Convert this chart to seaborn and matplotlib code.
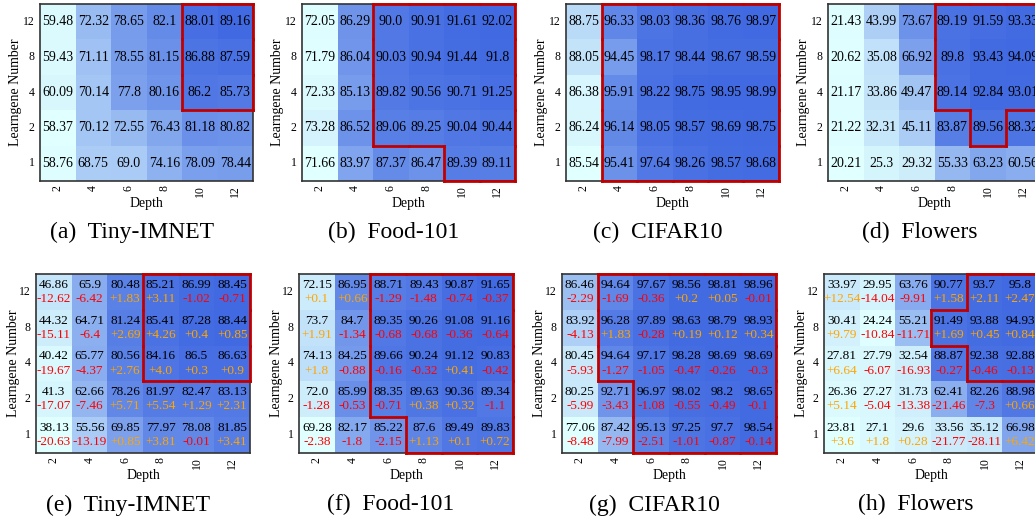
import numpy as np
import seaborn as sns
import matplotlib.pyplot as plt
from matplotlib.colors import LinearSegmentedColormap
from matplotlib.collections import LineCollection

plt.rcParams['font.family'] = ['Liberation Serif', 'DejaVu Serif']

# axis categories
depth = [2, 4, 6, 8, 10, 12]
learngene = [12, 8, 4, 2, 1]

# --- top row: accuracy (rows = learngene 12..1, cols = depth 2..12)
tiny_acc = [[59.48, 72.32, 78.65, 82.1, 88.01, 89.16],
            [59.43, 71.11, 78.55, 81.15, 86.88, 87.59],
            [60.09, 70.14, 77.8, 80.16, 86.2, 85.73],
            [58.37, 70.12, 72.55, 76.43, 81.18, 80.82],
            [58.76, 68.75, 69.0, 74.16, 78.09, 78.44]]
food_acc = [[72.05, 86.29, 90.0, 90.91, 91.61, 92.02],
            [71.79, 86.04, 90.03, 90.94, 91.44, 91.8],
            [72.33, 85.13, 89.82, 90.56, 90.71, 91.25],
            [73.28, 86.52, 89.06, 89.25, 90.04, 90.44],
            [71.66, 83.97, 87.37, 86.47, 89.39, 89.11]]
cifar_acc = [[88.75, 96.33, 98.03, 98.36, 98.76, 98.97],
             [88.05, 94.45, 98.17, 98.44, 98.67, 98.59],
             [86.38, 95.91, 98.22, 98.75, 98.95, 98.99],
             [86.24, 96.14, 98.05, 98.57, 98.69, 98.75],
             [85.54, 95.41, 97.64, 98.26, 98.57, 98.68]]
flowers_acc = [[21.43, 43.99, 73.67, 89.19, 91.59, 93.33],
               [20.62, 35.08, 66.92, 89.8, 93.43, 94.09],
               [21.17, 33.86, 49.47, 89.14, 92.84, 93.01],
               [21.22, 32.31, 45.11, 83.87, 89.56, 88.32],
               [20.21, 25.3, 29.32, 55.33, 63.23, 60.56]]

# --- bottom row: accuracy and change
tiny_acc2 = [[46.86, 65.9, 80.48, 85.21, 86.99, 88.45],
             [44.32, 64.71, 81.24, 85.41, 87.28, 88.44],
             [40.42, 65.77, 80.56, 84.16, 86.5, 86.63],
             [41.3, 62.66, 78.26, 81.97, 82.47, 83.13],
             [38.13, 55.56, 69.85, 77.97, 78.08, 81.85]]
tiny_diff = [[-12.62, -6.42, 1.83, 3.11, -1.02, -0.71],
             [-15.11, -6.4, 2.69, 4.26, 0.4, 0.85],
             [-19.67, -4.37, 2.76, 4.0, 0.3, 0.9],
             [-17.07, -7.46, 5.71, 5.54, 1.29, 2.31],
             [-20.63, -13.19, 0.85, 3.81, -0.01, 3.41]]
food_acc2 = [[72.15, 86.95, 88.71, 89.43, 90.87, 91.65],
             [73.7, 84.7, 89.35, 90.26, 91.08, 91.16],
             [74.13, 84.25, 89.66, 90.24, 91.12, 90.83],
             [72.0, 85.99, 88.35, 89.63, 90.36, 89.34],
             [69.28, 82.17, 85.22, 87.6, 89.49, 89.83]]
food_diff = [[0.1, 0.66, -1.29, -1.48, -0.74, -0.37],
             [1.91, -1.34, -0.68, -0.68, -0.36, -0.64],
             [1.8, -0.88, -0.16, -0.32, 0.41, -0.42],
             [-1.28, -0.53, -0.71, 0.38, 0.32, -1.1],
             [-2.38, -1.8, -2.15, 1.13, 0.1, 0.72]]
cifar_acc2 = [[86.46, 94.64, 97.67, 98.56, 98.81, 98.96],
              [83.92, 96.28, 97.89, 98.63, 98.79, 98.93],
              [80.45, 94.64, 97.17, 98.28, 98.69, 98.69],
              [80.25, 92.71, 96.97, 98.02, 98.2, 98.65],
              [77.06, 87.42, 95.13, 97.25, 97.7, 98.54]]
cifar_diff = [[-2.29, -1.69, -0.36, 0.2, 0.05, -0.01],
              [-4.13, 1.83, -0.28, 0.19, 0.12, 0.34],
              [-5.93, -1.27, -1.05, -0.47, -0.26, -0.3],
              [-5.99, -3.43, -1.08, -0.55, -0.49, -0.1],
              [-8.48, -7.99, -2.51, -1.01, -0.87, -0.14]]
flowers_acc2 = [[33.97, 29.95, 63.76, 90.77, 93.7, 95.8],
                [30.41, 24.24, 55.21, 91.49, 93.88, 94.93],
                [27.81, 27.79, 32.54, 88.87, 92.38, 92.88],
                [26.36, 27.27, 31.73, 62.41, 82.26, 88.98],
                [23.81, 27.1, 29.6, 33.56, 35.12, 66.98]]
flowers_diff = [[12.54, -14.04, -9.91, 1.58, 2.11, 2.47],
                [9.79, -10.84, -11.71, 1.69, 0.45, 0.84],
                [6.64, -6.07, -16.93, -0.27, -0.46, -0.13],
                [5.14, -5.04, -13.38, -21.46, -7.3, 0.66],
                [3.6, 1.8, 0.28, -21.77, -28.11, 6.42]]

# cells framed in red
tiny_box = ['000011', '000011', '000011', '000000', '000000']
food_box = ['001111', '001111', '001111', '001111', '000011']
cifar_box = ['011111', '011111', '011111', '011111', '011111']
flowers_box = ['000111', '000111', '000111', '000010', '000000']
tiny_box2 = ['000111', '000111', '000111', '000000', '000000']
food_box2 = ['001111', '001111', '001111', '001111', '000111']
cifar_box2 = ['011111', '011111', '011111', '001111', '001111']
flowers_box2 = ['000011', '000111', '000011', '000000', '000000']

captions_top = ['(a)  Tiny-IMNET', '(b)  Food-101', '(c)  CIFAR10', '(d)  Flowers']
captions_bot = ['(e)  Tiny-IMNET', '(f)  Food-101', '(g)  CIFAR10', '(h)  Flowers']

cmap = LinearSegmentedColormap.from_list('cb', ['#e0ffff', '#4169e1'])
BOX_RED = '#c00000'
W, H = 1035, 517


def px_rect(left, top, w, h):
    return [left / W, 1 - (top + h) / H, w / W, h / H]


def draw_box(ax, box):
    m = np.array([[c == '1' for c in row] for row in box])
    nr, nc = m.shape
    segs = []
    for i in range(nr):
        for j in range(nc):
            if not m[i, j]:
                continue
            if i == 0 or not m[i - 1, j]:
                segs.append([(j, i), (j + 1, i)])
            if i == nr - 1 or not m[i + 1, j]:
                segs.append([(j, i + 1), (j + 1, i + 1)])
            if j == 0 or not m[i, j - 1]:
                segs.append([(j, i), (j, i + 1)])
            if j == nc - 1 or not m[i, j + 1]:
                segs.append([(j + 1, i), (j + 1, i + 1)])
    lc = LineCollection(segs, colors=BOX_RED, linewidths=2.0,
                        capstyle='projecting', zorder=5, clip_on=False)
    ax.add_collection(lc)


def heat(ax, acc, diff, box, caption, ylab_x):
    acc = np.array(acc)
    sns.heatmap(acc, ax=ax, cmap=cmap, cbar=False, xticklabels=depth,
                yticklabels=learngene)
    for i in range(acc.shape[0]):
        for j in range(acc.shape[1]):
            if diff is None:
                ax.text(j + 0.5, i + 0.5, str(acc[i, j]), ha='center',
                        va='center', fontsize=10, color='black')
            else:
                d = diff[i][j]
                ax.text(j + 0.5, i + 0.3, str(acc[i, j]), ha='center',
                        va='center', fontsize=9.5, color='black')
                ax.text(j + 0.5, i + 0.7, f'{d:+}', ha='center', va='center',
                        fontsize=9.5, color='orange' if d > 0 else 'red')
    draw_box(ax, box)
    for sp in ax.spines.values():
        sp.set_visible(True)
        sp.set_color('#333333')
        sp.set_linewidth(1.2)
    ax.tick_params(length=0, labelsize=8.5)
    ax.tick_params(axis='x', pad=3, labelrotation=90)
    ax.tick_params(axis='y', pad=4, labelrotation=0)
    ax.set_xlabel('Depth', fontsize=10)
    ax.set_ylabel('Learngene Number', fontsize=10)
    ax.xaxis.set_label_coords(0.5, -0.125)
    ax.yaxis.set_label_coords(ylab_x, 0.5)
    ax.xaxis.label.set_va('center')
    ax.yaxis.label.set_va('center')
    ax.text(0.43, -0.29, caption, transform=ax.transAxes, ha='center',
            va='center', fontsize=17)


fig = plt.figure(figsize=(10.35, 5.17), dpi=100)

top_data = [(tiny_acc, tiny_box), (food_acc, food_box),
            (cifar_acc, cifar_box), (flowers_acc, flowers_box)]
bot_data = [(tiny_acc2, tiny_diff, tiny_box2), (food_acc2, food_diff, food_box2),
            (cifar_acc2, cifar_diff, cifar_box2),
            (flowers_acc2, flowers_diff, flowers_box2)]

for k, left in enumerate([40, 302, 566, 828]):
    ax = fig.add_axes(px_rect(left, 4, 213, 177))
    acc, box = top_data[k]
    heat(ax, acc, None, box, captions_top[k], -0.113)

for k, left in enumerate([36, 299, 562, 824]):
    ax = fig.add_axes(px_rect(left, 274, 214, 179))
    acc, diff, box = bot_data[k]
    heat(ax, acc, diff, box, captions_bot[k], -0.107)

fig.savefig('out.png', dpi=100)
